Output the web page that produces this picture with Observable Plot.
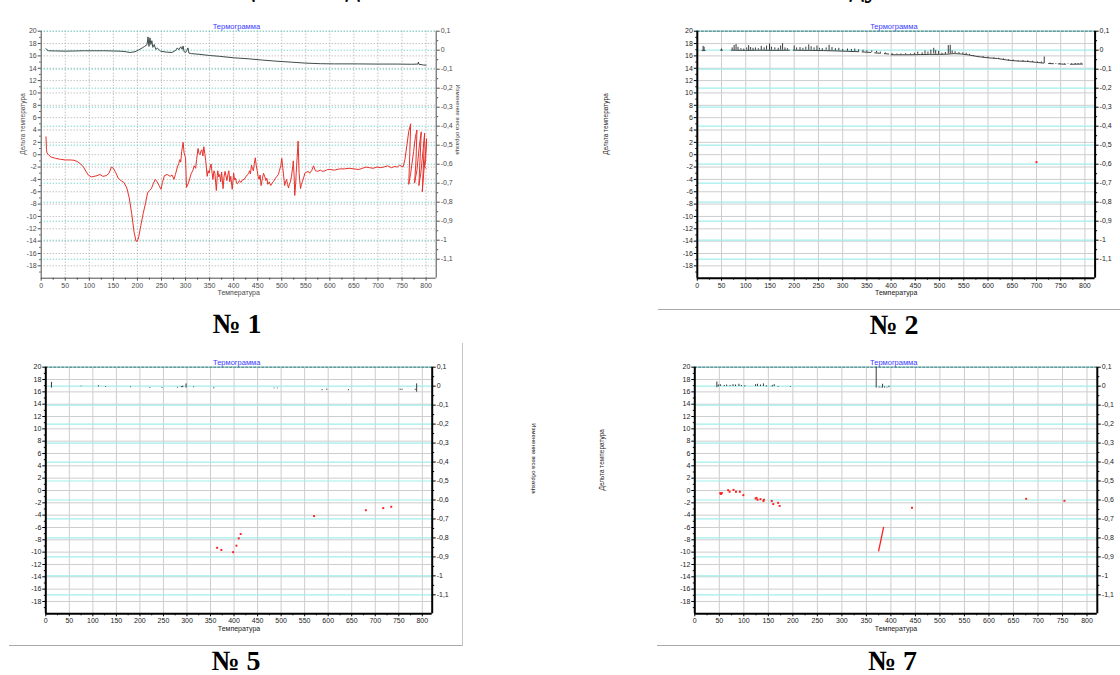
<!DOCTYPE html>
<html><head><meta charset="utf-8">
<script src="https://cdn.jsdelivr.net/npm/d3@7"></script>
<script src="https://cdn.jsdelivr.net/npm/@observablehq/plot@0.6"></script>
<style>
html,body{margin:0;padding:0;background:#fff}
body{width:1120px;height:675px;position:relative;overflow:hidden;font-family:"Liberation Sans",Arial,sans-serif}
.num{position:absolute;font-family:"Liberation Serif","Times New Roman",serif;font-weight:bold;font-size:28px;line-height:28px;white-space:nowrap;transform:translateX(-50%);color:#000}
.hr{position:absolute;height:1px;background:#a9a9a9}
.vr{position:absolute;width:1px;background:#c4c4c4}
.frag{position:absolute;left:0;top:0;width:1120px;height:6px;overflow:hidden}
.frag span{position:absolute;top:-28px;font-family:"Liberation Serif","Times New Roman",serif;font-weight:bold;font-size:30px;line-height:30px;color:#000}
</style></head><body>
<div class="frag"><span style="left:238px">ц</span><span style="left:345px">д</span><span style="left:849px">ду</span></div>
<script>
// ---------- shared labels / ticks ----------
const TITLE = "Термограмма";
const XLABEL = "Температура";
const YLABEL = "Дельта температура";
const RLABEL = "Изменение веса образца";
const xTicks = [0,50,100,150,200,250,300,350,400,450,500,550,600,650,700,750,800];
const leftTicks = [-18,-16,-14,-12,-10,-8,-6,-4,-2,0,2,4,6,8,10,12,14,16,18,20];
const rightTicks = [0.1,0,-0.1,-0.2,-0.3,-0.4,-0.5,-0.6,-0.7,-0.8,-0.9,-1,-1.1];
const panelNames = ["№ 1","№ 2","№ 5","№ 7"];

// ---------- panel 1: ΔT (red) and mass change (dark) ----------
const p1Red = [[10,2.9],[11,0.8],[12,0.3],[15,0],[20,-0.35],[30,-0.6],[40,-0.75],[50,-0.85],[60,-0.85],[68,-0.9],[75,-1.1],[82,-1.5],[88,-2],[93,-2.7],[98,-3.3],[104,-3.6],[110,-3.5],[116,-3.4],[122,-3.2],[128,-3.5],[135,-3.4],[141,-3],[146,-2],[150,-2.2],[155,-2.9],[160,-3.8],[166,-4.2],[172,-4.5],[178,-5.4],[183,-7],[188,-9.5],[193,-12.5],[197,-14],[200,-14],[203,-13.2],[207,-11.5],[212,-9.5],[217,-7.8],[221,-6.2],[225,-5.8],[229,-5.5],[233,-4.7],[237,-4],[241,-4.4],[245,-5],[249,-5.6],[252,-4.5],[256,-3.4],[262,-3.2],[268,-3.5],[272,-3.3],[276,-4],[279,-3.2],[283,-2],[286,-1.4],[288,-0.8],[290,-1.2],[292,0.5],[295,2],[297,0.3],[300,-0.5],[302,-5.3],[306,-4.6],[309,-3.8],[312,-3],[315,-2.6],[318,-1.8],[321,-2.2],[323,-0.8],[326,1],[328,0.2],[330,0],[332,0.6],[334,0.8],[336,-0.2],[338,1.3],[340,0.2],[342,-1],[345,-3.5],[347,-2.6],[349,-3],[351,-2.2],[353,-1.5],[355,-2.8],[357,-4],[359,-2.6],[361,-3],[364,-5.8],[366,-3.4],[367,-2.6],[369,-3.6],[371,-3.2],[373,-4.4],[375,-2.8],[378,-5.5],[380,-3.6],[382,-2.7],[384,-3.4],[386,-4.2],[388,-3.2],[390,-2.6],[392,-4.4],[394,-3.5],[397,-5.6],[400,-3],[402,-4.1],[404,-3.8],[406,-4.6],[408,-4.7],[412,-4.2],[415,-4.5],[418,-4.1],[422,-4],[425,-3.6],[428,-3.3],[431,-3.1],[433,-2.6],[435,-3.1],[437,-1.7],[439,-2.2],[441,-2.6],[443,-1.4],[445,-0.5],[447,-1.8],[449,-2.6],[451,-3.6],[453,-4],[455,-3.3],[457,-5],[460,-3.8],[462,-3],[465,-3.6],[467,-4.2],[469,-3.8],[471,-4.8],[474,-4.4],[477,-5],[480,-4.6],[483,-4.3],[487,-3.8],[490,-3.5],[493,-3.2],[495,-2.6],[498,-1.8],[500,-0.6],[502,-2],[503,-2.8],[505,-4.2],[506,-5],[508,-4.4],[510,-4],[512,-4.8],[514,-5.4],[516,-4.7],[518,-4.4],[520,-3.6],[521,-3],[523,-1.8],[524,-1],[526,-4],[527,-6.6],[529,-4.6],[530,-3],[532,-0.4],[534,2.2],[536,-3],[539,-5.5],[541,-4.8],[543,-4.3],[546,-3.6],[548,-3],[552,-2.8],[555,-2.7],[558,-3],[562,-2.6],[566,-1.8],[570,-2.6],[575,-2.7],[580,-2.5],[585,-2.7],[590,-2.6],[595,-2.4],[600,-2.4],[610,-2.5],[620,-2.3],[630,-2.3],[640,-2.2],[650,-2.3],[660,-2.4],[668,-2.2],[675,-2],[682,-2.1],[690,-2.2],[698,-2],[705,-2.1],[712,-2],[720,-1.8],[728,-2.1],[735,-1.9],[740,-2],[745,-1.7],[752,-2],[756,-0.8],[760,1.5],[764,3.8],[768,5],[766,0],[764,-4.8],[768,-3],[774,0.5],[778,3],[781,4],[779,-1],[776,-4.6],[781,-2.5],[786,1.5],[790,3.7],[787,-1.5],[785,-5],[789,-3],[794,1],[797,3.5],[794,-2.5],[792,-6],[795,-3],[799,0.5],[801,2.6],[799,-1],[797,-2],[800,-2.2]];
const p1Mass = [[10,0.008],[12,0.002],[15,-0.003],[30,-0.004],[50,-0.005],[70,-0.004],[90,-0.003],[110,-0.003],[130,-0.003],[150,-0.004],[170,-0.006],[185,-0.012],[195,-0.008],[203,0.002],[210,0.012],[215,0.02],[220,0.03],[222,0.07],[224,0.02],[226,0.065],[228,0.03],[230,0.05],[232,0.015],[235,0.03],[238,0.005],[242,0.01],[248,-0.005],[260,-0.01],[272,-0.012],[280,0],[283,0.012],[286,0.002],[290,0.018],[293,0.005],[295,0.022],[297,-0.008],[300,-0.012],[303,0],[305,0.012],[307,-0.015],[312,-0.018],[330,-0.022],[350,-0.028],[370,-0.032],[400,-0.04],[430,-0.045],[460,-0.052],[490,-0.058],[520,-0.063],[550,-0.068],[580,-0.071],[610,-0.072],[650,-0.072],[700,-0.073],[740,-0.073],[770,-0.074],[783,-0.073],[784,-0.062],[785,-0.074],[795,-0.078],[800,-0.079]];

// ---------- panel 2 ----------
const p2Sticks = [[12,-0.004,0.02],[14,-0.004,0.015],[50,-0.002,0.006],[72,0,0.012],[76,-0.002,0.025],[80,0,0.03],[84,-0.002,0.015],[90,0,0.008],[96,-0.002,0.006],[102,0,0.012],[106,-0.003,0.024],[110,0,0.014],[115,-0.002,0.01],[120,0,0.012],[126,0,0.008],[132,-0.002,0.02],[138,0,0.012],[143,0,0.022],[149,-0.002,0.032],[153,0,0.016],[160,0,0.012],[167,-0.002,0.01],[172,0,0.022],[176,0,0.034],[181,-0.002,0.012],[186,0,0.008],[200,-0.001,0.022],[205,0,0.012],[212,-0.002,0.014],[218,0,0.01],[224,0,0.016],[230,-0.002,0.028],[235,0,0.018],[241,0,0.012],[247,-0.003,0.022],[252,0,0.01],[258,-0.003,0.008],[266,0,0.012],[272,-0.004,0.026],[278,-0.002,0.014],[285,-0.004,0.008],[292,-0.004,0.01],[300,-0.005,0.004],[310,-0.006,0.006],[318,-0.006,0.004],[325,-0.008,0.006],[333,-0.009,0.002],[342,-0.01,0],[350,-0.011,-0.003],[360,-0.012,-0.004],[370,-0.015,-0.006],[378,-0.016,-0.01],[388,-0.02,-0.014],[402,-0.026,-0.018],[412,-0.024,-0.02],[420,-0.026,-0.02],[430,-0.024,-0.018],[440,-0.026,-0.02],[448,-0.024,-0.016],[455,-0.022,-0.01],[464,-0.024,-0.014],[470,-0.022,-0.004],[476,-0.022,-0.01],[482,-0.022,0],[488,-0.02,0.01],[492,-0.022,-0.002],[498,-0.022,-0.006],[505,-0.024,-0.016],[512,-0.022,-0.012],[518,-0.02,0.024],[522,-0.02,0.026],[526,-0.018,-0.004],[532,-0.018,-0.008],[540,-0.02,-0.012],[548,-0.022,-0.014],[555,-0.024,-0.016],[562,-0.028,-0.022],[570,-0.032,-0.028],[580,-0.036,-0.032],[590,-0.04,-0.034],[600,-0.042,-0.036],[612,-0.044,-0.04],[622,-0.048,-0.042],[632,-0.052,-0.046],[642,-0.056,-0.05],[652,-0.058,-0.052],[662,-0.06,-0.056],[672,-0.06,-0.054],[682,-0.062,-0.056],[692,-0.064,-0.058],[702,-0.066,-0.062],[710,-0.068,-0.062],[716,-0.07,-0.036],[728,-0.072,-0.068],[740,-0.074,-0.07],[748,-0.074,-0.07],[758,-0.076,-0.072],[765,-0.075,-0.072],[772,-0.076,-0.072],[780,-0.076,-0.07],[786,-0.075,-0.07],[792,-0.075,-0.068]];
const p2Base = [[10,-0.002],[16,-0.002],[null,null],[48,0],[52,0],[null,null],[70,0],[100,-0.001],[130,0],[160,-0.001],[190,0],[null,null],[198,0],[230,-0.001],[260,-0.002],[290,-0.004],[310,-0.006],[333,-0.008],[null,null],[340,-0.009],[358,-0.012],[null,null],[366,-0.014],[378,-0.016],[null,null],[386,-0.018],[395,-0.02],[null,null],[400,-0.024],[420,-0.024],[440,-0.024],[460,-0.023],[480,-0.022],[500,-0.022],[515,-0.021],[530,-0.018],[545,-0.02],[560,-0.025],[580,-0.034],[600,-0.04],[620,-0.044],[640,-0.052],[660,-0.057],[680,-0.059],[700,-0.064],[715,-0.068],[null,null],[725,-0.07],[735,-0.071],[null,null],[745,-0.072],[760,-0.074],[null,null],[770,-0.074],[795,-0.073]];
const p2RedPts = [[700,-1.2]];

// ---------- panel 5 ----------
const p5Sticks = [[12,-0.01,0.02],[75,-0.003,0],[112,-0.004,0.002],[127,-0.006,-0.002],[180,-0.008,-0.004],[221,-0.012,-0.008],[247,-0.012,-0.008],[280,-0.01,-0.006],[288,-0.008,-0.002],[291,-0.008,0],[298,-0.01,0.012],[314,-0.008,-0.004],[357,-0.014,-0.008],[485,-0.014,-0.01],[492,-0.014,-0.01],[587,-0.024,-0.018],[597,-0.022,-0.016],[643,-0.024,-0.018],[753,-0.022,-0.016],[757,-0.022,-0.016],[785,-0.022,-0.016],[788,-0.032,0.012]];
const p5RedPts = [[364,-9.3],[373,-9.65],[398,-10],[405,-8.95],[410,-7.76],[414,-7.06],[570,-4.15],[680,-3.2],[717,-2.86],[734,-2.64]];

// ---------- panel 7 ----------
const p7Sticks = [[45,-0.008,0.022],[48,-0.004,0.006],[52,-0.002,0.008],[60,-0.002,0.004],[65,-0.002,0.006],[72,-0.002,0.004],[78,-0.002,0.008],[83,-0.002,0.006],[90,-0.002,0.01],[95,-0.002,0.004],[102,-0.004,0.002],[124,-0.002,0.008],[128,-0.002,0.01],[134,-0.002,0.006],[140,-0.002,0.012],[146,-0.004,0.002],[158,-0.004,0.004],[162,-0.002,0.008],[170,-0.006,-0.002],[195,-0.006,-0.002],[370,-0.01,0.1],[376,-0.01,-0.004],[380,-0.01,-0.006],[383,-0.01,0.01],[387,-0.01,-0.004],[392,-0.01,-0.006],[396,-0.008,0]];
const p7RedPts = [[52,-0.43],[53,-0.55],[54,-0.5],[55,-0.4],[68,0.05],[71,-0.2],[79,0.1],[84,-0.2],[92,-0.2],[99,-0.75],[124,-1.3],[126,-1.2],[128,-1.5],[134,-1.4],[140,-1.7],[141,-1.5],[157,-1.7],[160,-2.2],[170,-2],[173,-2.5],[443,-2.8],[676,-1.35],[754,-1.67]];
const p7RedSeg = [[375,-9.8],[385,-6.0]];

// ---------- helpers ----------
const XMAX = 821;
const toL = r => -20 + (r + 1.2) / 1.3 * 40;      // mass-change axis -> ΔT axis units
const fromL = l => (l + 20) / 40 * 1.3 - 1.2;
const fmtR = v => { let r = Math.round(v * 10) / 10; if (Object.is(r, -0)) r = 0; return String(r).replace(".", ","); };
const xGrid = xTicks.filter(d => d > 0);
const xMinor = xTicks.slice(0, -1).map(d => d + 25);
const leftMinor = leftTicks.map(d => d - 1);
const rightMinor = rightTicks.slice(1).map(d => d + 0.05);
const RED = "#ff1f1f";

function sticks(arr, stroke) {
  return Plot.ruleX(arr, {x: d => d[0], y1: d => toL(d[1]), y2: d => toL(d[2]), stroke, strokeWidth: 1});
}
function redDots(arr) {
  return Plot.dot(arr, {x: d => d[0], y: d => d[1], r: 1.1, symbol: "square", fill: RED, stroke: "none"});
}

function panel(cfg) {
  const solid = cfg.solid;
  const [bx, by, bw, bh] = cfg.box;
  const [fx0, fy0, fx1, fy1] = cfg.frame;
  const gGray = solid ? {stroke: "#cdcdcd", strokeOpacity: 1, strokeWidth: 1}
                      : {stroke: "#a8a8a8", strokeOpacity: 1, strokeWidth: 1, strokeDasharray: "1,2"};
  const gCyan = solid ? {stroke: "#a2eded", strokeOpacity: 1, strokeWidth: 1.2}
                      : {stroke: "#67d3c8", strokeOpacity: 1, strokeWidth: 1, strokeDasharray: "1.2,1.8"};
  const ax = solid ? {stroke: "#000", strokeWidth: 2} : {stroke: "#4d4d4d", strokeWidth: 1};
  const txt = solid ? "#222" : "#4a4a4a";
  const marks = [
    Plot.gridX({ticks: xGrid, ...gGray}),
    Plot.gridY({ticks: leftTicks, ...gGray}),
    Plot.gridY({ticks: rightTicks.map(toL), ...gCyan})
  ];
  if (solid) marks.push(Plot.ruleY([20], {stroke: "#6b9696", strokeWidth: 1.6, strokeDasharray: "3,1"}));
  marks.push(...cfg.data);
  marks.push(
    Plot.ruleX([0], ax), Plot.ruleX([XMAX], ax), Plot.ruleY([-20], ax),
    Plot.axisX({ticks: xTicks, tickSize: 3, tickPadding: 1.5, fontSize: 7, tickFormat: d => String(d), label: null, stroke: ax.stroke}),
    Plot.axisX({ticks: xMinor, tickSize: 2, tickFormat: () => "", label: null, stroke: ax.stroke}),
    Plot.axisY({anchor: "left", ticks: leftTicks, tickSize: 3, tickPadding: 1.5, fontSize: 7, tickFormat: d => String(d), label: null, stroke: ax.stroke}),
    Plot.axisY({anchor: "left", ticks: leftMinor, tickSize: 1.5, tickFormat: () => "", label: null, stroke: ax.stroke}),
    Plot.axisY({anchor: "right", ticks: rightTicks.map(toL), tickSize: 3, tickPadding: 1.5, fontSize: 7, tickFormat: d => fmtR(fromL(d)), label: null, stroke: ax.stroke}),
    Plot.axisY({anchor: "right", ticks: rightMinor.map(toL), tickSize: 1.5, tickFormat: () => "", label: null, stroke: ax.stroke}),
    Plot.text([TITLE], {text: d => d, frameAnchor: "top", dy: -7.3, dx: -2.3, fill: "#3a3aff", fontSize: 7.5}),
    Plot.text([XLABEL], {text: d => d, frameAnchor: "bottom", dy: 16.8, fill: txt, fontSize: 7})
  );
  if (cfg.yLabelDx != null) marks.push(Plot.text([YLABEL], {text: d => d, frameAnchor: "left", rotate: -90, dx: cfg.yLabelDx, fill: txt, fontSize: 6.5}));
  if (cfg.rLabelDx != null) marks.push(Plot.text([RLABEL], {text: d => d, frameAnchor: "right", rotate: 90, dx: cfg.rLabelDx, dy: cfg.rLabelDy || 0, fill: txt, fontSize: 6}));
  const svg = Plot.plot({
    width: bw, height: bh,
    marginLeft: fx0 - bx, marginRight: bx + bw - fx1, marginTop: fy0 - by, marginBottom: by + bh - fy1,
    x: {domain: [0, XMAX], axis: null},
    y: {domain: [-20, 20], axis: null},
    style: {fontFamily: "'Liberation Sans', Arial, sans-serif", fontSize: "7px", color: txt, background: "transparent", overflow: "visible"},
    marks
  });
  svg.style.position = "absolute";
  svg.style.left = bx + "px";
  svg.style.top = by + "px";
  document.body.appendChild(svg);
}

// Panel 1
panel({
  solid: false, box: [0, 12, 470, 300], frame: [40.7, 30.7, 435.7, 277.7], yLabelDx: -18, rLabelDx: 21.5,
  data: [
    Plot.line(p1Mass, {x: d => d[0], y: d => toL(d[1]), stroke: "#3e4c4c", strokeWidth: 1}),
    Plot.line(p1Red, {x: d => d[0], y: d => d[1], stroke: "#e8302a", strokeWidth: 1})
  ]
});
// Panel 2
panel({
  solid: true, box: [590, 12, 530, 300], frame: [696.8, 30.7, 1094.6, 277.7], yLabelDx: -91.8,
  data: [
    Plot.line(p2Base, {x: d => d[0] == null ? NaN : d[0], y: d => d[1] == null ? NaN : toL(d[1]), stroke: "#444", strokeWidth: 1}),
    sticks(p2Sticks, "#3a3a3a"),
    redDots(p2RedPts)
  ]
});
// Panel 5
panel({
  solid: true, box: [0, 348, 545, 300], frame: [45.3, 366.7, 431.7, 613.3], rLabelDx: 101.3, rLabelDy: 3,
  data: [
    sticks(p5Sticks, "#3a3a3a"),
    redDots(p5RedPts)
  ]
});
// Panel 7
panel({
  solid: true, box: [590, 348, 530, 300], frame: [694.3, 366.7, 1096.8, 613.3], yLabelDx: -92.5,
  data: [
    sticks(p7Sticks, "#3a3a3a"),
    Plot.line(p7RedSeg, {x: d => d[0], y: d => d[1], stroke: RED, strokeWidth: 1.3}),
    redDots(p7RedPts)
  ]
});

// captions & separators
const captions = [[237, 310], [894, 311], [236, 647], [892.5, 647]];
captions.forEach(([x, y], i) => {
  const d = document.createElement("div");
  d.className = "num"; d.textContent = panelNames[i];
  d.style.left = x + "px"; d.style.top = y + "px";
  document.body.appendChild(d);
});
[[658, 309, 462], [9, 645, 453], [657, 645, 463]].forEach(([x, y, w]) => {
  const d = document.createElement("div"); d.className = "hr";
  d.style.left = x + "px"; d.style.top = y + "px"; d.style.width = w + "px";
  document.body.appendChild(d);
});
const v = document.createElement("div"); v.className = "vr";
v.style.left = "462px"; v.style.top = "343px"; v.style.height = "303px";
document.body.appendChild(v);
</script>
</body></html>
